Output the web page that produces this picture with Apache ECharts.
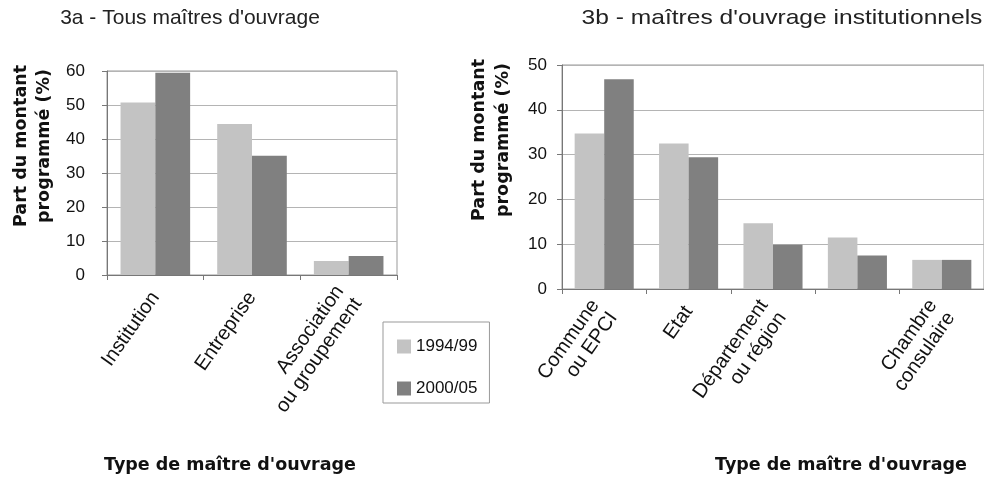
<!DOCTYPE html>
<html>
<head>
<meta charset="utf-8">
<script src="https://cdn.jsdelivr.net/npm/echarts@6/dist/echarts.min.js"></script>
<style>
html,body{margin:0;padding:0;background:#fff;}
#c{width:984px;height:477px;}
</style>
</head>
<body>
<div id="c"></div>
<script>
// ---- data ----
var seriesNames = ['1994/99', '2000/05'];
var categoriesA = ['Institution', 'Entreprise', 'Association\nou groupement'];
var valuesA9499 = [50.7, 44.4, 4.1];
var valuesA0005 = [59.5, 35.1, 5.6];
var categoriesB = ['Commune\nou EPCI', 'Etat', 'Département\nou région', '', 'Chambre\nconsulaire'];
var valuesB9499 = [34.7, 32.5, 14.7, 11.5, 6.5];
var valuesB0005 = [46.8, 29.4, 9.9, 7.5, 6.5];
var titleA = '3a - Tous maîtres d\'ouvrage';
var titleB = '3b - maîtres d\'ouvrage institutionnels';
var yName = 'Part du montant\nprogrammé (%)';
var xName = 'Type de maître d\'ouvrage';

var LIGHT = '#c3c3c3', DARK = '#808080';
var FONT = "'Liberation Sans', Arial, Helvetica, sans-serif";
var BOLD = "'DejaVu Sans', sans-serif";

function xAxisCfg(idx, cats) {
  return {
    type: 'category', gridIndex: idx, data: cats,
    axisLine: {lineStyle: {color: '#777', width: 1}},
    axisTick: {show: true, length: 5, lineStyle: {color: '#777'}},
    axisLabel: {interval: 0, rotate: 55, margin: 19, fontSize: 20, color: '#111', fontFamily: FONT, lineHeight: 22}
  };
}
function yAxisCfg(idx, max, margin) {
  return {
    type: 'value', gridIndex: idx, min: 0, max: max, interval: 10,
    axisLine: {show: true, lineStyle: {color: '#777'}},
    axisTick: {show: true, length: 5, lineStyle: {color: '#777'}},
    splitLine: {lineStyle: {color: '#b4b4b4', width: 1}},
    axisLabel: {margin: margin, fontSize: 17, color: '#111', fontFamily: FONT}
  };
}

var chart = echarts.init(document.getElementById('c'), null, {renderer: 'canvas'});
chart.setOption({
  animation: false,
  backgroundColor: '#fff',
  grid: [
    {left: 107, right: 587, top: 71, bottom: 202, show: true, borderColor: '#999', borderWidth: 1},
    {left: 562, right: -4, top: 65, bottom: 188, show: true, borderColor: '#999', borderWidth: 1}
  ],
  xAxis: [xAxisCfg(0, categoriesA), xAxisCfg(1, categoriesB)],
  yAxis: [yAxisCfg(0, 60, 22), yAxisCfg(1, 50, 15)],
  legend: {
    data: seriesNames, selectedMode: false, orient: 'vertical',
    left: 383, top: 322, itemWidth: 14, itemHeight: 14, itemGap: 25,
    padding: [16, 12, 6, 14], icon: 'rect',
    borderColor: '#999', borderWidth: 1, backgroundColor: '#fff',
    textStyle: {fontSize: 17, color: '#111', fontFamily: FONT}
  },
  series: [
    {name: seriesNames[0], type: 'bar', xAxisIndex: 0, yAxisIndex: 0, data: valuesA9499, barWidth: '36%', barGap: '0%', itemStyle: {color: LIGHT}},
    {name: seriesNames[1], type: 'bar', xAxisIndex: 0, yAxisIndex: 0, data: valuesA0005, barWidth: '36%', barGap: '0%', itemStyle: {color: DARK}},
    {name: seriesNames[0], type: 'bar', xAxisIndex: 1, yAxisIndex: 1, data: valuesB9499, barWidth: '35%', barGap: '0%', itemStyle: {color: LIGHT}},
    {name: seriesNames[1], type: 'bar', xAxisIndex: 1, yAxisIndex: 1, data: valuesB0005, barWidth: '35%', barGap: '0%', itemStyle: {color: DARK}}
  ],
  graphic: [
    {type: 'text', x: 190, y: 18, style: {text: titleA, font: '21px ' + FONT, fill: '#222', textAlign: 'center', textVerticalAlign: 'middle'}},
    {type: 'text', x: 782, y: 18, scaleX: 1.17, style: {text: titleB, font: '21px ' + FONT, fill: '#222', textAlign: 'center', textVerticalAlign: 'middle'}},
    {type: 'text', x: 33, y: 146, rotation: Math.PI / 2, style: {text: yName, font: 'bold 17.5px ' + BOLD, fill: '#111', textAlign: 'center', textVerticalAlign: 'middle', lineHeight: 23}},
    {type: 'text', x: 491, y: 140, rotation: Math.PI / 2, style: {text: yName, font: 'bold 17.5px ' + BOLD, fill: '#111', textAlign: 'center', textVerticalAlign: 'middle', lineHeight: 24}},
    {type: 'text', x: 230, y: 465, style: {text: xName, font: 'bold 17.5px ' + BOLD, fill: '#111', textAlign: 'center', textVerticalAlign: 'middle'}},
    {type: 'text', x: 841, y: 465, style: {text: xName, font: 'bold 17.5px ' + BOLD, fill: '#111', textAlign: 'center', textVerticalAlign: 'middle'}}
  ]
});
</script>
</body>
</html>
